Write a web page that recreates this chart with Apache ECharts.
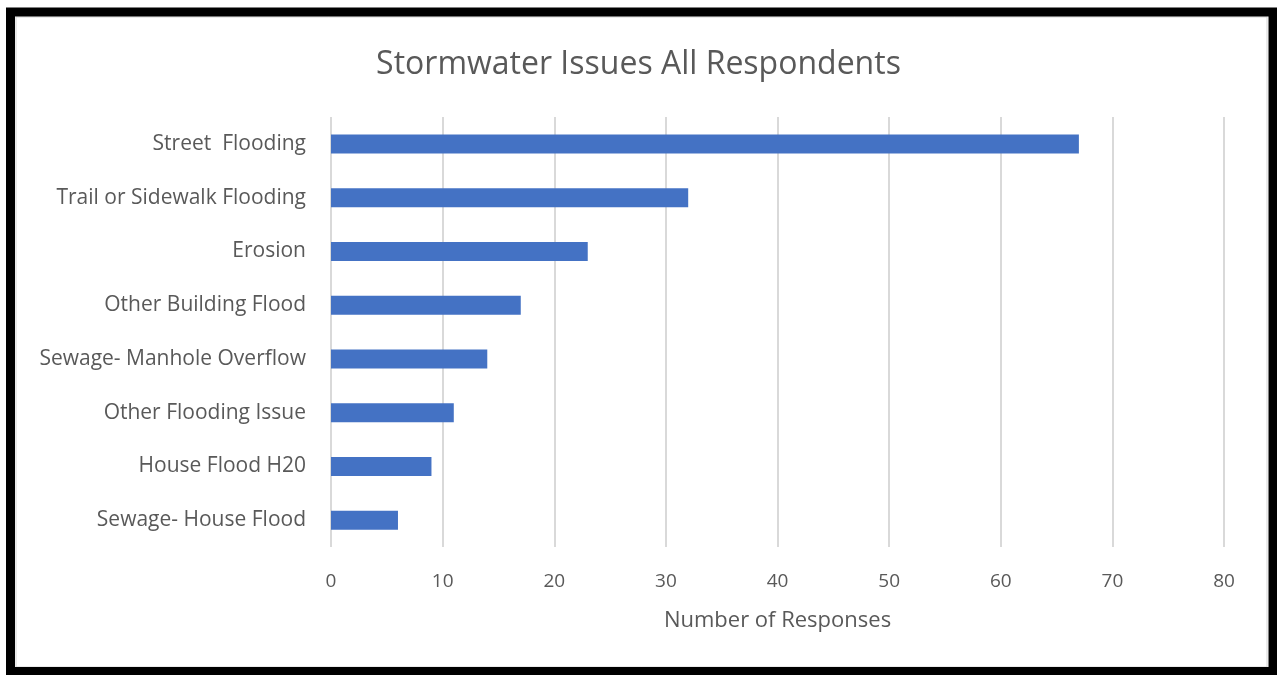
<!DOCTYPE html>
<html>
<head>
<meta charset="utf-8">
<script src="https://cdn.jsdelivr.net/npm/echarts@6/dist/echarts.min.js"></script>
<style>
  html, body { margin: 0; padding: 0; background: #fff; }
  #chart { width: 1277px; height: 675px; }
</style>
</head>
<body>
<div id="chart"></div>
<script>
// Survey categories, listed bottom-to-top as the category axis draws them
const categories = [
  'Sewage- House Flood',
  'House Flood H20',
  'Other Flooding Issue',
  'Sewage- Manhole Overflow',
  'Other Building Flood',
  'Erosion',
  'Trail or Sidewalk Flooding',
  'Street  Flooding'
];
const responses = [6, 9, 11, 14, 17, 23, 32, 67];
const tickValues = [0, 10, 20, 30, 40, 50, 60, 70, 80];

const textColor = '#595959';
const font = '"Open Sans", "Noto Sans", sans-serif';

const chart = echarts.init(document.getElementById('chart'), null, { renderer: 'canvas' });
chart.setOption({
  animation: false,
  backgroundColor: '#ffffff',
  title: {
    text: 'Stormwater Issues All Respondents',
    left: 'center',
    top: 44,
    textStyle: { color: textColor, fontFamily: font, fontSize: 32, fontWeight: 'normal' }
  },
  graphic: [
    {
      type: 'rect',
      shape: { x: 16, y: 17, width: 1251, height: 650 },
      style: { fill: null, stroke: '#d6d6d6', lineWidth: 1 },
      silent: true
    },
    {
      type: 'rect',
      shape: { x: 10.5, y: 12, width: 1262.5, height: 659.5 },
      style: { fill: null, stroke: '#000000', lineWidth: 9 },
      silent: true
    }
  ],
  grid: { left: 331, right: 53, top: 117, bottom: 128, containLabel: false },
  xAxis: {
    type: 'value',
    min: tickValues[0],
    max: tickValues[tickValues.length - 1],
    interval: 10,
    name: 'Number of Responses',
    nameLocation: 'middle',
    nameGap: 63,
    nameTextStyle: { color: textColor, fontFamily: font, fontSize: 22 },
    axisLine: { show: false },
    axisTick: { show: false },
    axisLabel: { color: textColor, fontFamily: font, fontSize: 19, margin: 25 },
    splitLine: { show: true, lineStyle: { color: '#d9d9d9', width: 2 } }
  },
  yAxis: {
    type: 'category',
    data: categories,
    axisLine: { show: false },
    axisTick: { show: false },
    axisLabel: { color: textColor, fontFamily: font, fontSize: 21, margin: 25 }
  },
  series: [{
    type: 'bar',
    data: responses,
    barWidth: 19,
    itemStyle: { color: '#4472C4' }
  }]
});
</script>
</body>
</html>
